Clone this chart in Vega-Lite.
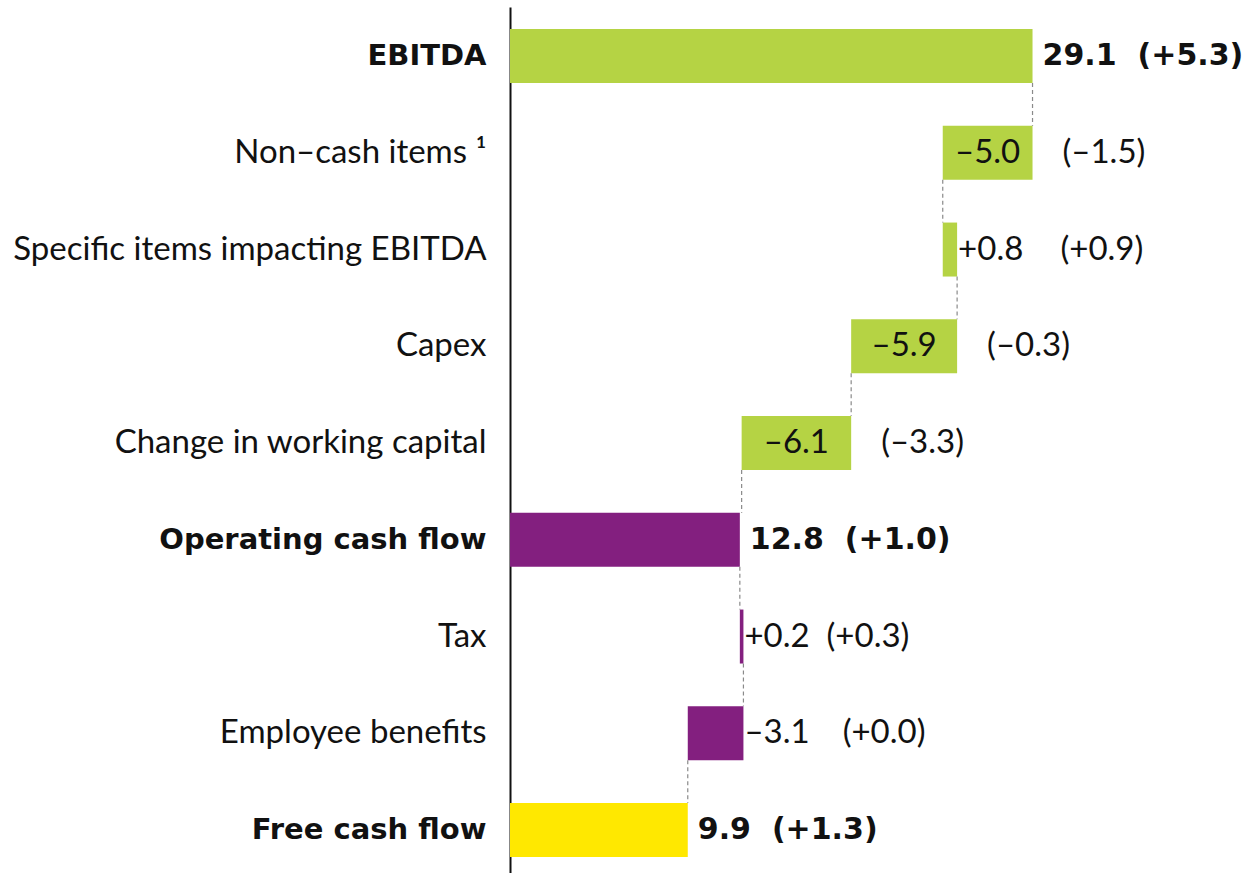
{
  "$schema": "https://vega.github.io/schema/vega-lite/v6.json",
  "autosize": "none",
  "padding": {"left": 510, "top": 7, "right": 0, "bottom": 0},
  "width": 738,
  "height": 866,
  "background": "white",
  "config": {"view": {"stroke": null}, "font": "Lato"},
  "data": {
    "values": [
      {"cat": "EBITDA", "start": 0, "end": 29.1, "total": 29.1, "next": "Non–cash items ¹", "grp": "g", "pos": "bold", "val": "29.1", "chg": "(+5.3)", "lbl": "29.1\u2002\u2009(+5.3)"},
      {"cat": "Non–cash items ¹", "start": 24.1, "end": 29.1, "total": 24.1, "next": "Specific items impacting EBITDA", "grp": "g", "pos": "in", "val": "–5.0", "chg": "(–1.5)", "lbl": ""},
      {"cat": "Specific items impacting EBITDA", "start": 24.1, "end": 24.9, "total": 24.9, "next": "Capex", "grp": "g", "pos": "out", "val": "+0.8", "chg": "(+0.9)", "lbl": "+0.8\u2002\u2002\u2009(+0.9)"},
      {"cat": "Capex", "start": 19.0, "end": 24.9, "total": 19.0, "next": "Change in working capital", "grp": "g", "pos": "in", "val": "–5.9", "chg": "(–0.3)", "lbl": ""},
      {"cat": "Change in working capital", "start": 12.9, "end": 19.0, "total": 12.9, "next": "Operating cash flow", "grp": "g", "pos": "in", "val": "–6.1", "chg": "(–3.3)", "lbl": ""},
      {"cat": "Operating cash flow", "start": 0, "end": 12.8, "total": 12.8, "next": "Tax", "grp": "p", "pos": "bold", "val": "12.8", "chg": "(+1.0)", "lbl": "12.8\u2002\u2009(+1.0)"},
      {"cat": "Tax", "start": 12.8, "end": 13.0, "total": 13.0, "next": "Employee benefits", "grp": "p", "pos": "out", "val": "+0.2", "chg": "(+0.3)", "lbl": "+0.2\u00a0\u00a0(+0.3)"},
      {"cat": "Employee benefits", "start": 9.9, "end": 13.0, "total": 9.9, "next": "Free cash flow", "grp": "p", "pos": "out", "val": "–3.1", "chg": "(+0.0)", "lbl": "–3.1\u2002\u2002(+0.0)"},
      {"cat": "Free cash flow", "start": 0, "end": 9.9, "total": 9.9, "next": null, "grp": "y", "pos": "bold", "val": "9.9", "chg": "(+1.3)", "lbl": "9.9\u2002\u2009(+1.3)"}
    ]
  },
  "layer": [
    {
      "mark": {"type": "bar"},
      "encoding": {
        "y": {
          "field": "cat", "type": "nominal",
          "sort": null,
          "scale": {
            "domain": ["EBITDA", "Non–cash items ¹", "Specific items impacting EBITDA", "Capex", "Change in working capital", "Operating cash flow", "Tax", "Employee benefits", "Free cash flow"],
            "paddingInner": 0.442, "paddingOuter": 0.1965, "align": 0.58
          },
          "axis": {
            "title": null,
            "ticks": false,
            "grid": false,
            "domainColor": "#111111",
            "domainWidth": 2,
            "labelColor": "#111111",
            "labelPadding": 24,
            "labelLimit": 600,
            "labelFont": {"condition": {"test": "indexof(['EBITDA','Operating cash flow','Free cash flow'], datum.value) >= 0", "value": "DejaVu Sans"}, "value": "Lato"},
            "labelFontSize": {"condition": {"test": "indexof(['EBITDA','Operating cash flow','Free cash flow'], datum.value) >= 0", "value": 29}, "value": 33},
            "labelFontWeight": {"condition": {"test": "indexof(['EBITDA','Operating cash flow','Free cash flow'], datum.value) >= 0", "value": "bold"}, "value": "normal"}
          }
        },
        "x": {"field": "start", "type": "quantitative", "scale": {"domain": [0, 41.1], "nice": false, "zero": true}, "axis": null},
        "x2": {"field": "end"},
        "color": {"field": "grp", "type": "nominal", "scale": {"domain": ["g", "p", "y"], "range": ["#B5D344", "#831F7F", "#FFE800"]}, "legend": null}
      }
    },
    {
      "transform": [{"filter": "datum.next != null"}],
      "mark": {"type": "rule", "strokeDash": [4, 3], "color": "#8a8a8a", "strokeWidth": 1.2},
      "encoding": {
        "y": {"field": "cat", "type": "nominal", "bandPosition": 1},
        "y2": {"field": "next", "bandPosition": 0},
        "x": {"field": "total", "type": "quantitative"}
      }
    },
    {
      "transform": [{"filter": "datum.pos == 'in'"}, {"calculate": "(datum.start + datum.end) / 2", "as": "mid"}],
      "mark": {"type": "text", "align": "center", "baseline": "middle", "fontSize": 33, "color": "#111111", "font": "Lato"},
      "encoding": {
        "y": {"field": "cat", "type": "nominal"},
        "x": {"field": "mid", "type": "quantitative"},
        "text": {"field": "val"}
      }
    },
    {
      "transform": [{"filter": "datum.pos == 'in'"}],
      "mark": {"type": "text", "align": "left", "baseline": "middle", "fontSize": 33, "color": "#111111", "dx": 30, "font": "Lato"},
      "encoding": {
        "y": {"field": "cat", "type": "nominal"},
        "x": {"field": "end", "type": "quantitative"},
        "text": {"field": "chg"}
      }
    },
    {
      "transform": [{"filter": "datum.pos == 'out'"}],
      "mark": {"type": "text", "align": "left", "baseline": "middle", "fontSize": 33, "color": "#111111", "dx": 1, "font": "Lato"},
      "encoding": {
        "y": {"field": "cat", "type": "nominal"},
        "x": {"field": "end", "type": "quantitative"},
        "text": {"field": "lbl"}
      }
    },
    {
      "transform": [{"filter": "datum.pos == 'bold'"}],
      "mark": {"type": "text", "align": "left", "baseline": "middle", "fontSize": 30, "fontWeight": "bold", "color": "#111111", "dx": 10, "font": "DejaVu Sans"},
      "encoding": {
        "y": {"field": "cat", "type": "nominal"},
        "x": {"field": "end", "type": "quantitative"},
        "text": {"field": "lbl"}
      }
    }
  ]
}
